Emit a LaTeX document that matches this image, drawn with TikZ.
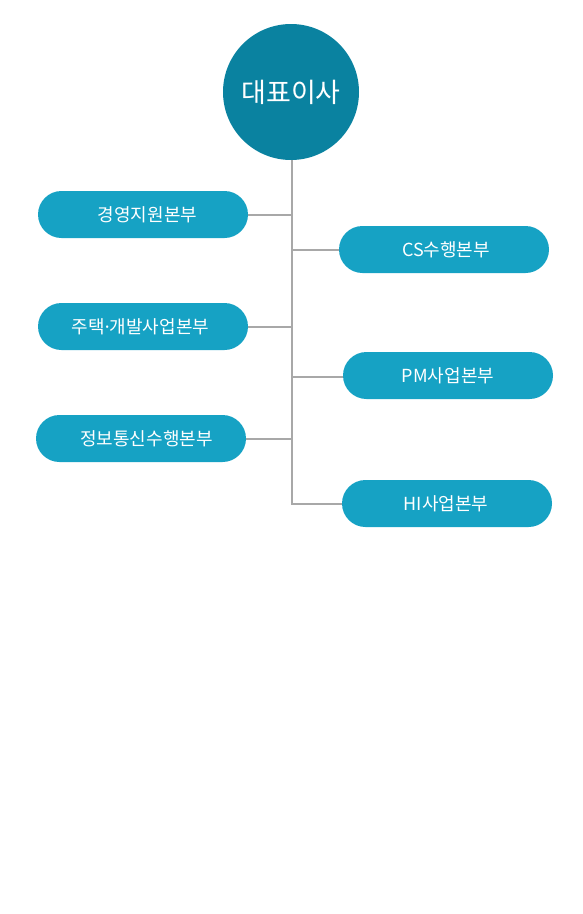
\documentclass[tikz,border=0pt]{standalone}
\usepackage{fontspec}
\setmainfont{Noto Sans CJK KR}
\newfontfamily\latinfont{Noto Sans}
\definecolor{ceo}{HTML}{0A82A0}
\definecolor{pillc}{HTML}{16A2C4}
\definecolor{linec}{HTML}{A8A8A8}
\begin{document}
\begin{tikzpicture}[x=1pt,y=-1pt,
  pill/.style={fill=pillc, rounded corners=23.5pt, minimum width=210pt, minimum height=47pt, inner sep=0pt},
  lbl/.style={text=white, inner sep=0pt, font=\fontsize{18}{20}\selectfont},
  conn/.style={draw=linec, line width=2pt}]
\useasboundingbox (0,0) rectangle (582,914);
\node[circle, fill=ceo, minimum size=136pt, inner sep=0pt, text=white, font=\fontsize{27}{29}\selectfont] (ceo) at (291,92) {대표이사};
\node[pill] (p1) at (143,214.5) {};
\node[pill] (p2) at (143,326.5) {};
\node[pill] (p3) at (141,438.5) {};
\node[pill] (p4) at (444,249.5) {};
\node[pill] (p5) at (448,375.5) {};
\node[pill] (p6) at (447,503.5) {};
\node[lbl] (t1) at (147.5,214.5) {경영지원본부};
\node[lbl] (t2) at (140.5,326.5) {주택{\latinfont ·}개발사업본부};
\node[lbl] (t3) at (146.5,438.5) {정보통신수행본부};
\node[lbl] (t4) at (446,249.5) {CS수행본부};
\node[lbl] (t5) at (448,375.5) {PM사업본부};
\node[lbl] (t6) at (446,503.5) {HI사업본부};
\coordinate (j1) at (292,214.5);
\coordinate (j2) at (292,326.5);
\coordinate (j3) at (292,438.5);
\coordinate (j4) at (292,249.5);
\coordinate (j5) at (292,376.5);
\path[conn] (ceo.south) ++(1,0) |- (p6.west);
\path[conn] (p1.east) -- (j1);
\path[conn] (p2.east) -- (j2);
\path[conn] (p3.east) -- (j3);
\path[conn] (j4) -- (p4.west);
\path[conn] (j5) -- (p5.west |- j5);
\end{tikzpicture}
\end{document}
